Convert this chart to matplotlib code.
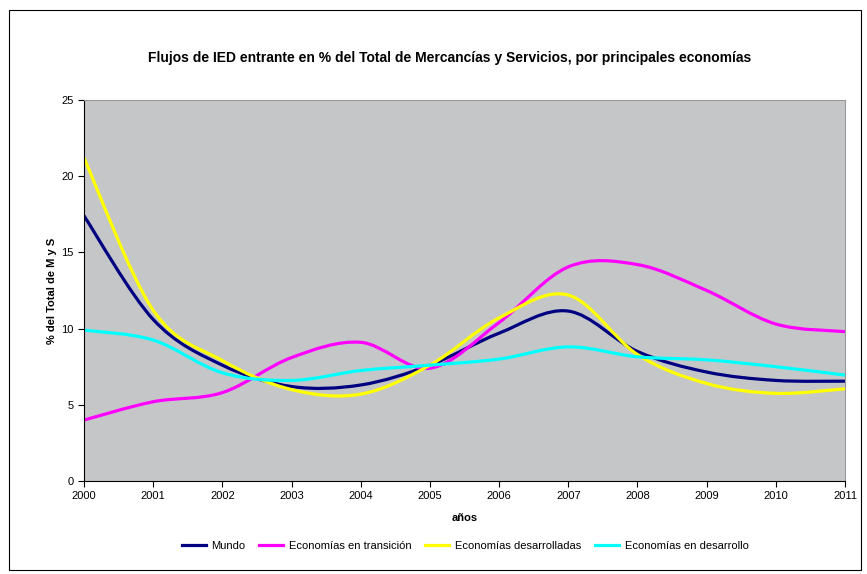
import numpy as np
import matplotlib.pyplot as plt
from matplotlib.path import Path
from matplotlib.patches import PathPatch, Rectangle
from matplotlib.lines import Line2D

plt.rcParams['font.family'] = ['Liberation Sans', 'DejaVu Sans']

# Datos
anios = [2000, 2001, 2002, 2003, 2004, 2005, 2006, 2007, 2008, 2009, 2010, 2011]
mundo = [17.4, 10.6, 7.6, 6.2, 6.3, 7.6, 9.7, 11.15, 8.5, 7.15, 6.6, 6.55]
transicion = [4.0, 5.2, 5.8, 8.1, 9.1, 7.4, 10.4, 14.05, 14.2, 12.5, 10.3, 9.8]
desarrolladas = [21.2, 11.2, 7.9, 6.0, 5.7, 7.6, 10.7, 12.2, 8.3, 6.4, 5.75, 6.05]
desarrollo = [9.9, 9.25, 7.1, 6.6, 7.25, 7.6, 8.0, 8.8, 8.15, 7.95, 7.5, 6.95]

series = [
    ('Mundo', mundo, '#000080'),
    ('Economías en transición', transicion, '#ff00ff'),
    ('Economías desarrolladas', desarrolladas, '#ffff00'),
    ('Economías en desarrollo', desarrollo, '#00ffff'),
]


def curva_suave(x, y):
    # trazo suavizado tipo Excel (Bezier por tramos, Catmull-Rom)
    x = np.asarray(x, float)
    y = np.asarray(y, float)
    pts = np.column_stack([x, y])
    verts = [pts[0]]
    codes = [Path.MOVETO]
    n = len(pts)
    for i in range(n - 1):
        p0 = pts[max(i - 1, 0)]
        p1 = pts[i]
        p2 = pts[i + 1]
        p3 = pts[min(i + 2, n - 1)]
        c1 = p1 + (p2 - p0) / 6.0
        c2 = p2 - (p3 - p1) / 6.0
        verts += [c1, c2, p2]
        codes += [Path.CURVE4] * 3
    return Path(verts, codes)


fig = plt.figure(figsize=(8.67, 5.74), dpi=100)
ax = fig.add_axes([84 / 867, 1 - 481 / 574, (845 - 84) / 867, (481 - 100) / 574])
ax.set_facecolor('#c5c6c8')

handles = []
for nombre, valores, color in series:
    patch = PathPatch(curva_suave(anios, valores), facecolor='none',
                      edgecolor=color, lw=2.3, capstyle='round', joinstyle='round')
    ax.add_patch(patch)
    handles.append(Line2D([], [], color=color, lw=2.3))

ax.set_xlim(2000, 2011)
ax.set_ylim(0, 25)
ax.set_xticks(anios)
ax.set_yticks(range(0, 26, 5))
ax.tick_params(labelsize=8, length=4, direction='out', width=0.8)

for lado in ['top', 'right']:
    ax.spines[lado].set_color('#999999')
for lado in ['left', 'bottom']:
    ax.spines[lado].set_color('black')

ax.set_xlabel('años', fontsize=8, fontweight='bold', labelpad=8)
ax.set_ylabel('% del Total de M y S', fontsize=8, fontweight='bold', labelpad=3)
fig.text(450 / 867, 1 - 58 / 574, 'Flujos de IED entrante en % del Total de Mercancías y Servicios, por principales economías',
         ha='center', va='center', fontsize=10, fontweight='bold')

fig.legend(handles, [s[0] for s in series], loc='center', bbox_to_anchor=(465 / 867, 1 - 546 / 574),
           ncol=4, frameon=False, fontsize=8, handlelength=2.2, columnspacing=1.2, handletextpad=0.5)

fig.patches.append(Rectangle((9 / 867, 4 / 574), 852 / 867, 560 / 574, transform=fig.transFigure,
                             fill=False, edgecolor='black', lw=0.8))

fig.savefig('out.png', dpi=100)
